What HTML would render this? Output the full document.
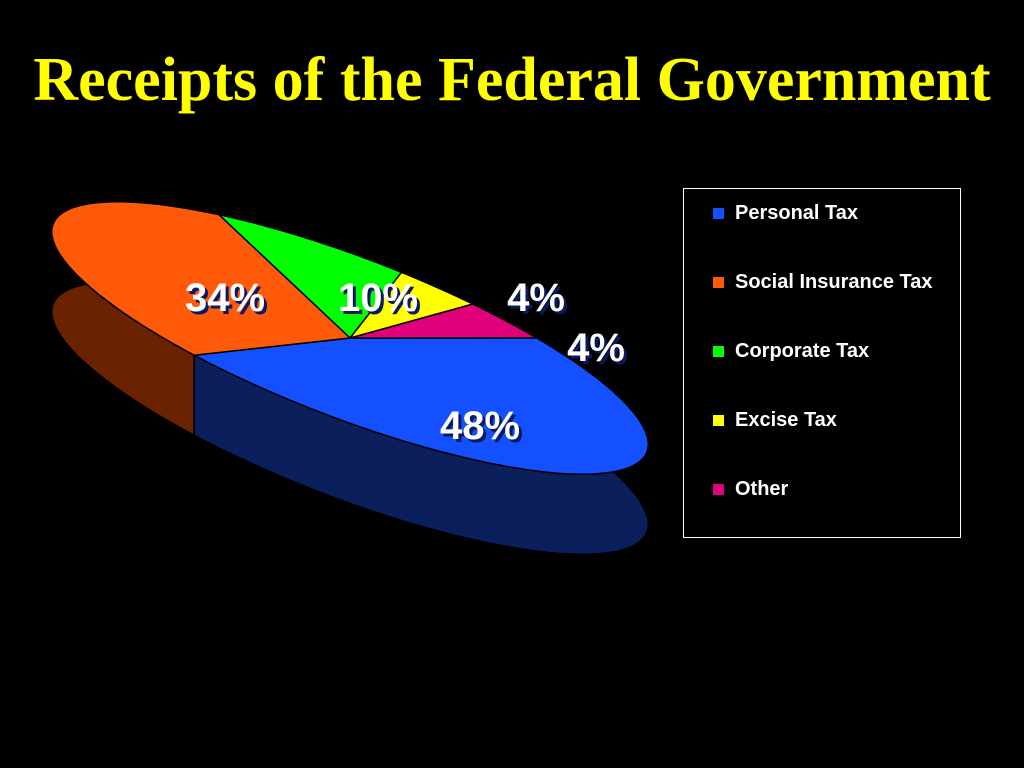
<!DOCTYPE html>
<html><head><meta charset="utf-8">
<style>
html,body{margin:0;padding:0;background:#000;}
body{width:1024px;height:768px;position:relative;overflow:hidden;font-family:"Liberation Sans",sans-serif;}
#title{position:absolute;left:0;width:1024px;top:47px;text-align:center;color:#ffff00;font-family:"Liberation Serif",serif;font-weight:bold;font-size:62px;margin:0;line-height:66px;white-space:nowrap;}
#legend{position:absolute;left:683px;top:188px;width:278px;height:350px;border:1px solid #fff;box-sizing:border-box;}
.li{position:absolute;left:51px;color:#fff;font-weight:bold;font-size:20px;line-height:29px;width:215px;}
.sw{position:absolute;left:-22px;top:9px;width:11px;height:11px;}
</style></head><body>
<h1 id="title">Receipts of the Federal Government</h1>
<svg id="pie" width="1024" height="768" style="position:absolute;left:0;top:0"></svg>
<div id="legend">
 <div class="li" style="top:10px"><span class="sw" style="background:#1450ff"></span>Personal Tax</div>
 <div class="li" style="top:79px"><span class="sw" style="background:#ff5a0a"></span>Social Insurance Tax</div>
 <div class="li" style="top:148px"><span class="sw" style="background:#00ff00"></span>Corporate Tax</div>
 <div class="li" style="top:217px"><span class="sw" style="background:#ffff00"></span>Excise Tax</div>
 <div class="li" style="top:286px"><span class="sw" style="background:#e0007a"></span>Other</div>
</div>
<script>
const categories = ["Personal Tax","Other","Excise Tax","Corporate Tax","Social Insurance Tax"];
const values = [48, 4, 4, 10, 34];
const topColors = ["#1450ff","#e0007a","#ffff00","#00ff00","#ff5a0a"];
const sideColors = ["#0a1f5c","#5a0030","#5a5a00","#005a00","#6b2200"];
const labelPos = [[480,425],[596,347],[536,297],[378,297],[225,297]];

const svg = document.getElementById('pie');
const NS = 'http://www.w3.org/2000/svg';
const cx = 350, cy = 338, A = 318, B = 80, rot = 21*Math.PI/180, depth = 80, start = 116;
const ux = Math.cos(rot), uy = Math.sin(rot), vx = -Math.sin(rot), vy = Math.cos(rot);
function pt(deg, dz){
  const t = deg*Math.PI/180, c = Math.cos(t)*A, s = Math.sin(t)*B;
  return [cx + c*ux + s*vx, cy + c*uy + s*vy + (dz||0)];
}
function arc(a1, a2, dz){
  const pts = []; const n = Math.max(4, Math.ceil(Math.abs(a2-a1)/2));
  for(let i=0;i<=n;i++){ pts.push(pt(a1 + (a2-a1)*i/n, dz)); }
  return pts;
}
const total = values.reduce((a,b)=>a+b,0);
const slices = []; let a = start;
values.forEach((v,i)=>{ const a2 = a - v/total*360; slices.push([a,a2,i]); a = a2; });

const sides = slices.map(s=>{ const m=(s[0]+s[1])/2; return {s, y: pt(m)[1]}; }).sort((p,q)=>p.y-q.y);
sides.forEach(o=>{
  const [a1,a2,i] = o.s;
  const top = arc(a1,a2,0), bot = arc(a2,a1,depth);
  const p = document.createElementNS(NS,'path');
  p.setAttribute('d','M'+top.concat(bot).map(q=>q[0].toFixed(1)+','+q[1].toFixed(1)).join('L')+'Z');
  p.setAttribute('fill', sideColors[i]); p.setAttribute('stroke','#000'); p.setAttribute('stroke-width','1.5');
  
  
  svg.appendChild(p);
});
slices.forEach(([a1,a2,i])=>{
  const pts = [[cx,cy]].concat(arc(a1,a2,0));
  const p = document.createElementNS(NS,'path');
  p.setAttribute('d','M'+pts.map(q=>q[0].toFixed(1)+','+q[1].toFixed(1)).join('L')+'Z');
  p.setAttribute('fill', topColors[i]); p.setAttribute('stroke','#000'); p.setAttribute('stroke-width','1.5');
  
  
  svg.appendChild(p);
});
values.forEach((v,i)=>{
  const [x,y] = labelPos[i];
  const sh = document.createElementNS(NS,'text');
  sh.setAttribute('x', x+3); sh.setAttribute('y', y+17); sh.setAttribute('text-anchor','middle');
  sh.setAttribute('font-family','Liberation Sans, sans-serif'); sh.setAttribute('font-weight','bold'); sh.setAttribute('font-size','40');
  sh.setAttribute('fill','#0a1a60'); sh.textContent = v + '%';
  
  
  svg.appendChild(sh);
  const t = document.createElementNS(NS,'text');
  t.setAttribute('x', x); t.setAttribute('y', y+14); t.setAttribute('text-anchor','middle');
  t.setAttribute('font-family','Liberation Sans, sans-serif'); t.setAttribute('font-weight','bold'); t.setAttribute('font-size','40');
  t.setAttribute('fill','#fff'); t.textContent = v + '%';
  
  
  svg.appendChild(t);
});
</script>
</body></html>
